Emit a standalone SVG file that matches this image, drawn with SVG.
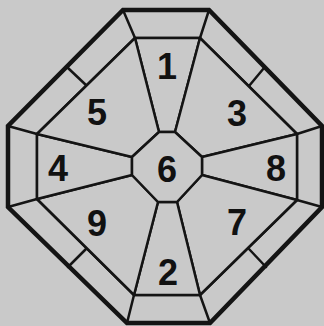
<svg xmlns="http://www.w3.org/2000/svg" width="324" height="326" viewBox="0 0 324 326">
<style>
.bg{fill:#c9c9c9}
.reg{fill:#c9c9c9;stroke:#141414;stroke-width:2.5;stroke-linejoin:round}
.outer{fill:#c9c9c9;stroke:#141414;stroke-width:4.5;stroke-linejoin:miter}
.ln{stroke:#141414;stroke-width:2.5;fill:none;stroke-linecap:round}
.lbl{font-family:"Liberation Sans",Arial,sans-serif;font-weight:bold;font-size:36px;fill:#111;text-anchor:middle}
</style>
<rect class="bg" x="0" y="0" width="324" height="326"/>
<g id="ring">
<polygon class="outer" points="123,10 209,10 322,126 322,207 210,323 127,323 8,207 8,126"/>
<polygon class="reg" points="135,38 200,38 297,134 297,200 200,295 134,295 37,199 37,134"/>
<g class="ln">
<line x1="123" y1="10" x2="135" y2="38"/>
<line x1="209" y1="10" x2="200" y2="38"/>
<line x1="322" y1="126" x2="297" y2="134"/>
<line x1="322" y1="207" x2="297" y2="200"/>
<line x1="210" y1="323" x2="200" y2="295"/>
<line x1="127" y1="323" x2="134" y2="295"/>
<line x1="8" y1="207" x2="37" y2="199"/>
<line x1="8" y1="126" x2="37" y2="134"/>
<line x1="68" y1="68" x2="87" y2="86"/>
<line x1="264" y1="68" x2="249" y2="86"/>
<line x1="68" y1="267" x2="86" y2="249"/>
<line x1="249" y1="249" x2="266" y2="267"/>
</g>
</g>
<g id="n1"><polygon class="reg" points="135,38 200,38 175,132 159,132"/><text class="lbl" x="167" y="79">1</text></g>
<g id="n3"><polygon class="reg" points="200,38 297,134 202,157 175,132"/><text class="lbl" x="237" y="126">3</text></g>
<g id="n8"><polygon class="reg" points="297,134 297,200 202,175 202,157"/><text class="lbl" x="276" y="181">8</text></g>
<g id="n7"><polygon class="reg" points="297,200 200,295 177,202 202,175"/><text class="lbl" x="237" y="235">7</text></g>
<g id="n2"><polygon class="reg" points="200,295 134,295 158,202 177,202"/><text class="lbl" x="168" y="285">2</text></g>
<g id="n9"><polygon class="reg" points="134,295 37,199 132,175 158,202"/><text class="lbl" x="97" y="236">9</text></g>
<g id="n4"><polygon class="reg" points="37,199 37,134 132,157 132,175"/><text class="lbl" x="58" y="181">4</text></g>
<g id="n5"><polygon class="reg" points="37,134 135,38 159,132 132,157"/><text class="lbl" x="97" y="125">5</text></g>
<g id="n6"><polygon class="reg" points="159,132 175,132 202,157 202,175 177,202 158,202 132,175 132,157"/><text class="lbl" x="167" y="182">6</text></g>
</svg>
